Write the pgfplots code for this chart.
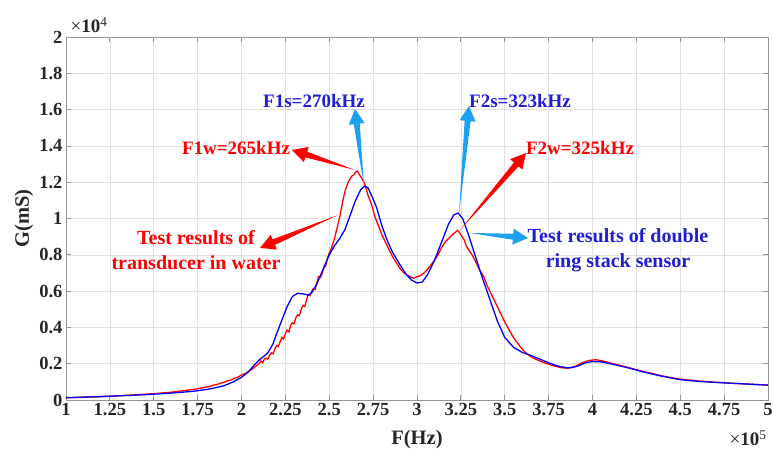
\documentclass[border=0pt]{standalone}
\usepackage{fontspec}
\setmainfont{Liberation Serif}
\usepackage{pgfplots}
\pgfplotsset{compat=1.18}
\usetikzlibrary{calc}

\definecolor{cred}{RGB}{255,0,0}
\definecolor{cblue}{RGB}{0,0,255}
\definecolor{tblue}{RGB}{30,30,215}
\definecolor{lblue}{RGB}{30,160,240}
\definecolor{gridc}{RGB}{225,225,225}
\definecolor{axc}{RGB}{150,150,150}

% tapered annotation arrow: colour, tail, tip
\newcommand{\warrow}[3]{%
  \path #3 coordinate (tp) #2 coordinate (tl);
  \path ($(tp)!15pt!(tl)$) coordinate (bs);
  \fill[#1] (tl) -- ($(bs)!3pt!90:(tp)$) -- ($(bs)!8pt!90:(tp)$) -- (tp)
    -- ($(bs)!8pt!-90:(tp)$) -- ($(bs)!3pt!-90:(tp)$) -- cycle;}

\pgfplotstableread{
x y
1.00 0.013
1.10 0.016
1.20 0.019
1.30 0.023
1.40 0.027
1.50 0.032
1.60 0.038
1.70 0.046
1.75 0.051
1.80 0.058
1.85 0.067
1.90 0.079
1.95 0.098
2.00 0.125
2.04 0.155
2.07 0.190
2.10 0.220
2.12 0.235
2.15 0.260
2.18 0.310
2.20 0.365
2.23 0.440
2.26 0.515
2.29 0.570
2.32 0.588
2.35 0.585
2.38 0.578
2.40 0.590
2.43 0.640
2.46 0.710
2.50 0.800
2.53 0.850
2.56 0.890
2.59 0.940
2.62 1.020
2.65 1.100
2.68 1.160
2.70 1.178
2.72 1.170
2.74 1.130
2.77 1.060
2.80 0.960
2.83 0.880
2.86 0.815
2.90 0.750
2.94 0.690
2.97 0.660
3.00 0.645
3.03 0.650
3.06 0.690
3.10 0.770
3.14 0.870
3.18 0.970
3.21 1.020
3.235 1.030
3.26 1.000
3.29 0.920
3.33 0.800
3.37 0.680
3.42 0.540
3.46 0.430
3.50 0.345
3.55 0.290
3.60 0.262
3.65 0.245
3.70 0.225
3.75 0.205
3.80 0.188
3.85 0.178
3.88 0.178
3.92 0.188
3.96 0.205
4.00 0.212
4.05 0.210
4.10 0.200
4.20 0.178
4.25 0.165
4.30 0.152
4.40 0.130
4.50 0.112
4.60 0.103
4.70 0.097
4.80 0.092
4.90 0.087
5.00 0.082
}\sensor

\pgfplotstableread{
x y
1.00 0.012
1.25 0.020
1.50 0.035
1.60 0.043
1.70 0.055
1.75 0.062
1.80 0.072
1.82 0.075
1.84 0.082
1.86 0.085
1.88 0.093
1.90 0.097
1.92 0.106
1.94 0.110
1.96 0.120
1.98 0.126
2.00 0.138
2.02 0.145
2.04 0.158
2.06 0.170
2.08 0.185
2.10 0.200
2.11 0.215
2.12 0.205
2.13 0.225
2.14 0.230
2.15 0.225
2.16 0.245
2.17 0.260
2.18 0.255
2.19 0.280
2.20 0.300
2.21 0.295
2.22 0.320
2.23 0.345
2.24 0.335
2.25 0.365
2.26 0.385
2.27 0.375
2.28 0.410
2.29 0.425
2.30 0.420
2.31 0.455
2.32 0.470
2.33 0.465
2.34 0.500
2.35 0.520
2.36 0.515
2.37 0.550
2.38 0.580
2.39 0.575
2.40 0.600
2.41 0.615
2.42 0.610
2.43 0.650
2.44 0.680
2.45 0.675
2.46 0.700
2.47 0.730
2.48 0.740
2.49 0.780
2.50 0.810
2.51 0.830
2.52 0.860
2.53 0.890
2.54 0.930
2.55 0.970
2.56 1.010
2.57 1.060
2.58 1.110
2.59 1.150
2.60 1.180
2.61 1.205
2.62 1.220
2.63 1.235
2.64 1.240
2.65 1.255
2.66 1.262
2.67 1.245
2.68 1.230
2.69 1.215
2.70 1.195
2.71 1.165
2.72 1.130
2.74 1.080
2.76 1.010
2.78 0.960
2.80 0.910
2.82 0.870
2.84 0.830
2.86 0.790
2.88 0.760
2.90 0.730
2.92 0.705
2.94 0.690
2.96 0.680
2.98 0.670
3.00 0.680
3.02 0.685
3.04 0.700
3.06 0.720
3.08 0.745
3.10 0.770
3.12 0.800
3.14 0.840
3.16 0.870
3.18 0.890
3.20 0.910
3.22 0.925
3.23 0.935
3.24 0.925
3.25 0.910
3.26 0.895
3.27 0.880
3.28 0.850
3.30 0.820
3.32 0.790
3.34 0.750
3.36 0.710
3.38 0.680
3.40 0.630
3.42 0.590
3.44 0.550
3.46 0.510
3.48 0.470
3.50 0.430
3.52 0.395
3.54 0.360
3.56 0.330
3.58 0.305
3.60 0.280
3.62 0.260
3.64 0.245
3.66 0.232
3.70 0.215
3.74 0.200
3.78 0.188
3.82 0.178
3.86 0.175
3.90 0.185
3.94 0.205
3.98 0.218
4.02 0.222
4.06 0.215
4.10 0.205
4.20 0.180
4.30 0.155
4.40 0.132
4.50 0.115
4.60 0.105
4.70 0.098
4.80 0.092
4.90 0.087
5.00 0.082
}\water

\begin{document}
\begin{tikzpicture}[x=1pt,y=1pt]
\useasboundingbox (-66,-56) rectangle (707,400);
\begin{axis}[
  at={(0,0)}, anchor=south west,
  scale only axis, width=702pt, height=363pt,
  xmin=1, xmax=5, ymin=0, ymax=2,
  xtick={1,1.25,1.5,1.75,2,2.25,2.5,2.75,3,3.25,3.5,3.75,4,4.25,4.5,4.75,5},
  xticklabels={1,1.25,1.5,1.75,2,2.25,2.5,2.75,3,3.25,3.5,3.75,4,4.25,4.5,4.75,5},
  ytick={0,0.2,0.4,0.6,0.8,1,1.2,1.4,1.6,1.8,2},
  yticklabels={0,0.2,0.4,0.6,0.8,1,1.2,1.4,1.6,1.8,2},
  grid=major, major grid style={gridc, line width=0.6pt},
  axis line style={axc, line width=0.8pt},
  tick style={axc, line width=0.8pt},
  tick align=inside, major tick length=5pt,
  tick label style={font=\fontsize{18.5}{18.5}\selectfont\bfseries, text=black!85},
  /pgf/number format/assume math mode=true,
  xlabel={F(Hz)}, ylabel={G(mS)},
  label style={font=\fontsize{20.5}{20.5}\selectfont\bfseries, text=black!85},
  xlabel style={at={(axis description cs:0.5,-0.110)}, anchor=center},
  ylabel style={at={(axis description cs:-0.060,0.5)}, anchor=center},
]
\addplot[cred, line width=1.3pt] table[x=x,y=y] {\water};
\addplot[cblue, line width=1.3pt] table[x=x,y=y] {\sensor};
\end{axis}

% scale factors
\node[font=\fontsize{19}{19}\selectfont, text=black!85] at (23,375) {×\textbf{10}\textsuperscript{4}};
\node[font=\fontsize{19}{19}\selectfont, text=black!85] at (682,-38) {×\textbf{10}\textsuperscript{5}};

% annotations
\warrow{cred}{(289,230)}{(226,250)}
\warrow{lblue}{(298,214)}{(289,291)}
\warrow{lblue}{(393,187)}{(403,294)}
\warrow{cred}{(394,170)}{(460,247)}
\warrow{cred}{(272,185)}{(194,152)}
\warrow{lblue}{(404,167)}{(462,162)}

\begin{scope}[every node/.style={font=\fontsize{19}{25}\selectfont\bfseries}]
\node[text=cred] at (170,252) {F1w=265kHz};
\node[text=tblue] at (248,299) {F1s=270kHz};
\node[text=tblue] at (454,299) {F2s=323kHz};
\node[text=cred] at (514,252) {F2w=325kHz};
\end{scope}
\begin{scope}[every node/.style={font=\fontsize{20}{25}\selectfont\bfseries}]
\node[text=cred, align=center] at (130,150) {Test results of\\transducer in water};
\node[text=tblue, align=center] at (552,150) {Test results of double\\ring stack sensor};
\end{scope}
\end{tikzpicture}
\end{document}
